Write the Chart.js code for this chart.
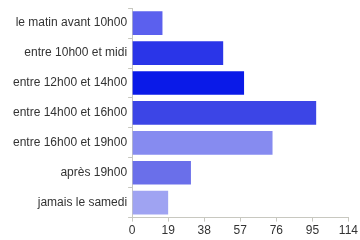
<!DOCTYPE html>
<html>
<head>
<meta charset="utf-8">
<script src="https://cdn.jsdelivr.net/npm/chart.js@4"></script>
<style>
    html, body { margin: 0; padding: 0; background: #fff; }
    #wrap { width: 360px; height: 240px; }
</style>
</head>
<body>
<div id="wrap"><canvas id="myChart"></canvas></div>
<script>
const categories = ["le matin avant 10h00", "entre 10h00 et midi", "entre 12h00 et 14h00", "entre 14h00 et 16h00", "entre 16h00 et 19h00", "après 19h00", "jamais le samedi"];
const answers = [16, 48, 59, 97, 74, 31, 19];
const barColors = ["#5b60ee", "#2a35e8", "#0a1ae8", "#3c45e6", "#868bf0", "#6a6fea", "#9fa3f2"];
const xTicks = [0, 19, 38, 57, 76, 95, 114];

const ctx = document.getElementById("myChart").getContext("2d");

new Chart(ctx, {
    type: "bar",
    data: {
        labels: categories,
        datasets: [{
            data: answers,
            backgroundColor: barColors,
            borderWidth: 0,
            barPercentage: 0.79,
            categoryPercentage: 1
        }]
    },
    options: {
        indexAxis: "y",
        responsive: true,
        maintainAspectRatio: false,
        animation: false,
        layout: { padding: { left: 12, right: 0, top: 7, bottom: 0 } },
        plugins: {
            legend: { display: false },
            tooltip: { enabled: false }
        },
        scales: {
            x: {
                min: 0,
                max: 114,
                afterBuildTicks: function (axis) {
                    axis.ticks = xTicks.map(v => ({ value: v }));
                },
                grid: { display: true, drawOnChartArea: false, tickLength: 4, color: "#c8c8c0" },
                border: { color: "#c8c8c0" },
                ticks: { color: "#333", font: { family: "Liberation Sans", size: 12 }, padding: 2, maxRotation: 0 }
            },
            y: {
                grid: { display: true, drawOnChartArea: false, tickLength: 4, color: "#c8c8c0" },
                border: { color: "#c8c8c0" },
                ticks: { color: "#333", font: { family: "Liberation Sans", size: 12 }, padding: 1 }
            }
        }
    }
});
</script>
</body>
</html>
